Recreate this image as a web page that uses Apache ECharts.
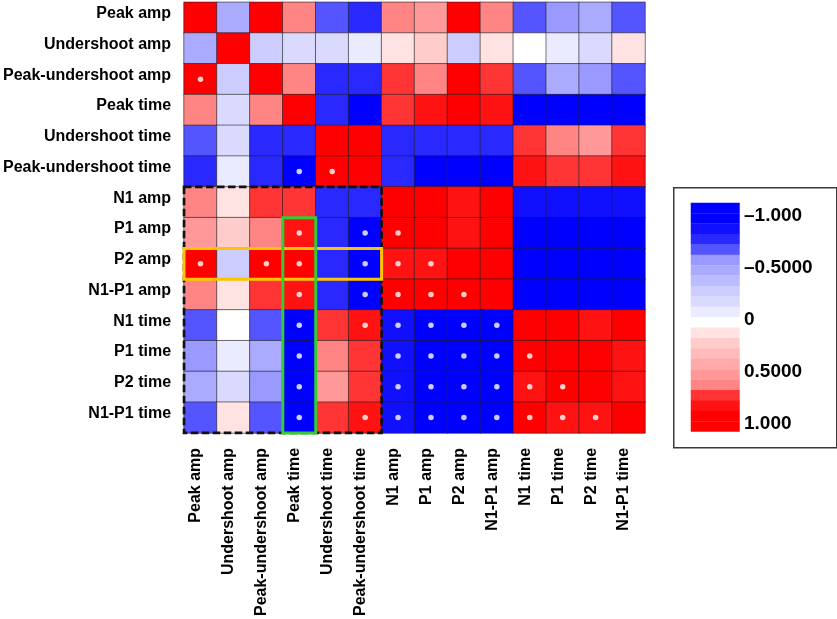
<!DOCTYPE html>
<html><head><meta charset="utf-8">
<script src="https://cdn.jsdelivr.net/npm/echarts@6/dist/echarts.min.js"></script>
<style>html,body{margin:0;padding:0;background:#fff}#chart{width:837px;height:619px}</style>
</head><body><div id="chart"></div>
<script>
const categories = ['Peak amp','Undershoot amp','Peak-undershoot amp','Peak time','Undershoot time','Peak-undershoot time','N1 amp','P1 amp','P2 amp','N1-P1 amp','N1 time','P1 time','P2 time','N1-P1 time'];

const corrRows = [
  [ 1.00,-0.45, 0.94, 0.64,-0.66,-0.77, 0.63, 0.56, 0.93, 0.64,-0.65,-0.54,-0.46,-0.66],
  [-0.45, 1.00,-0.26,-0.16,-0.15,-0.06, 0.14, 0.23,-0.24, 0.13, 0.03,-0.05,-0.17, 0.12],
  [ 0.94,-0.26, 1.00, 0.65,-0.78,-0.77, 0.76, 0.64, 0.95, 0.74,-0.66,-0.46,-0.53,-0.65],
  [ 0.64,-0.16, 0.65, 1.00,-0.78,-0.95, 0.74, 0.86, 0.94, 0.87,-0.94,-0.95,-0.94,-0.93],
  [-0.66,-0.15,-0.78,-0.78, 1.00, 0.95,-0.77,-0.78,-0.77,-0.79, 0.76, 0.64, 0.57, 0.77],
  [-0.77,-0.06,-0.77,-0.95, 0.95, 1.00,-0.78,-0.94,-0.95,-0.94, 0.87, 0.75, 0.76, 0.86],
  [ 0.63, 0.14, 0.76, 0.74,-0.77,-0.78, 1.00, 0.95, 0.87, 0.93,-0.88,-0.87,-0.89,-0.88],
  [ 0.56, 0.23, 0.64, 0.86,-0.78,-0.94, 0.95, 1.00, 0.86, 0.92,-0.93,-0.94,-0.93,-0.92],
  [ 0.93,-0.24, 0.95, 0.94,-0.77,-0.95, 0.87, 0.86, 1.00, 0.93,-0.93,-0.92,-0.93,-0.91],
  [ 0.64, 0.13, 0.74, 0.87,-0.79,-0.94, 0.93, 0.92, 0.93, 1.00,-0.92,-0.93,-0.91,-0.93],
  [-0.65, 0.03,-0.66,-0.94, 0.76, 0.87,-0.88,-0.93,-0.93,-0.92, 1.00, 0.95, 0.86, 0.92],
  [-0.54,-0.05,-0.46,-0.95, 0.64, 0.75,-0.87,-0.94,-0.92,-0.93, 0.95, 1.00, 0.95, 0.88],
  [-0.46,-0.17,-0.53,-0.94, 0.57, 0.76,-0.89,-0.93,-0.93,-0.91, 0.86, 0.95, 1.00, 0.87],
  [-0.66, 0.12,-0.65,-0.93, 0.77, 0.86,-0.88,-0.92,-0.91,-0.93, 0.92, 0.88, 0.87, 1.00]
];

// significant cells: [column index, row index]
const sigCells = [
  [0,2],[3,5],[4,5],
  [3,7],[5,7],[6,7],
  [0,8],[2,8],[3,8],[5,8],[6,8],[7,8],
  [3,9],[5,9],[6,9],[7,9],[8,9],
  [3,10],[5,10],[6,10],[7,10],[8,10],[9,10],
  [3,11],[6,11],[7,11],[8,11],[9,11],[10,11],
  [3,12],[6,12],[7,12],[8,12],[9,12],[10,12],[11,12],
  [3,13],[5,13],[6,13],[7,13],[8,13],[9,13],[10,13],[11,13],[12,13]
];

// highlighted boxes: [col0, row0, col1, row1]
const boxes = [[0,6,5,13],[0,8,5,8],[3,7,3,13]];

const legendTickValues = [-1, -0.5, 0, 0.5, 1];
const legendTickLabels = ['\u20131.000','\u20130.5000','0','0.5000','1.000'];

const pieceBounds = [-1.1,-1.0,-0.9,-0.8,-0.7,-0.6,-0.5,-0.4,-0.3,-0.2,-0.1,0,0.1,0.2,0.3,0.4,0.5,0.6,0.7,0.8,0.9,1.0,1.1];
const pieceColors = ['#0000ff','#0000ff','#1010ff','#2828ff','#5555ff','#9999ff','#aaaaff','#bbbbff','#ccccff','#dadaff','#ebebff',
                     '#ffffff','#ffe3e3','#ffcccc','#ffbbbb','#ffaaaa','#ff9999','#ff8585','#ff3535','#ff1212','#ff0000','#ff0000'];

const boxStyles = [
  {stroke:'#111', lineWidth:2.7, lineDash:[7.5,3.5]},
  {stroke:'#ffc400', lineWidth:3, lineDash:null},
  {stroke:'#33cc33', lineWidth:3, lineDash:null}
];

const heatData = [];
corrRows.forEach((row, r) => row.forEach((v, c) => heatData.push([c, r, v])));

const pieces = pieceColors.map((col, i) => (
  i === pieceColors.length - 1
    ? {gte: pieceBounds[i], lte: pieceBounds[i+1], color: col}
    : {gte: pieceBounds[i], lt: pieceBounds[i+1], color: col}
));

const FONT = 'Liberation Sans, Arial, Helvetica, sans-serif';
const chart = echarts.init(document.getElementById('chart'), null, {renderer:'canvas'});
chart.setOption({
  backgroundColor:'#fff',
  animation:false,
  grid:[
    {left:182, top:2.3, width:463, height:434, containLabel:false},
    {left:690, top:212.4, width:49, height:208, containLabel:false}
  ],
  xAxis:[
    {type:'category', data:categories, gridIndex:0, position:'bottom',
     axisLine:{show:false}, axisTick:{show:false}, splitLine:{show:false},
     axisLabel:{rotate:90, interval:0, margin:15, color:'#000', fontFamily:FONT, fontWeight:'bold', fontSize:16,
       verticalAlign:'bottom', lineHeight:9}},
    {type:'value', gridIndex:1, show:false, min:0, max:1}
  ],
  yAxis:[
    {type:'category', data:categories, gridIndex:0, inverse:true,
     axisLine:{show:false}, axisTick:{show:false}, splitLine:{show:false},
     axisLabel:{interval:0, margin:13, color:'#000', fontFamily:FONT, fontWeight:'bold', fontSize:16,
       verticalAlign:'bottom', lineHeight:8}},
    {type:'value', gridIndex:1, min:-1, max:1, interval:0.5, inverse:true, position:'right', z:20,
     axisLine:{show:false}, axisTick:{show:false}, splitLine:{show:false},
     axisLabel:{show:true, margin:5, color:'#000', fontFamily:FONT, fontWeight:'bold', fontSize:19,
       verticalAlign:'top', lineHeight:7,
       showMinLabel:true, showMaxLabel:true,
       formatter:(v)=>{const i = legendTickValues.findIndex(t=>Math.abs(t-v)<1e-6); return i>=0 ? legendTickLabels[i] : '';}}}
  ],
  visualMap:{
    type:'piecewise', seriesIndex:0, orient:'vertical', inverse:true,
    pieces:pieces, showLabel:false, itemSymbol:'rect',
    itemWidth:49, itemHeight:10.7, itemGap:-0.3,
    left:673, top:187, padding:[15,97,15.9,17],
    borderColor:'#3a3a3a', borderWidth:1.5, backgroundColor:'transparent',
    selectedMode:false, hoverLink:false, z:1
  },
  series:[
    {type:'heatmap', xAxisIndex:0, yAxisIndex:0, data:heatData,
     itemStyle:{borderColor:'rgba(30,30,30,0.75)', borderWidth:0.8},
     emphasis:{disabled:true}, silent:true, z:2},
    {type:'scatter', xAxisIndex:0, yAxisIndex:0, data:sigCells, symbol:'circle', symbolSize:5.5,
     itemStyle:{color:'#fff'}, silent:true, z:4},
    {type:'custom', xAxisIndex:0, yAxisIndex:0, data:boxes, silent:true, z:5, clip:false,
     renderItem:(params, api)=>{
       const p0 = api.coord([api.value(0), api.value(1)]);
       const p1 = api.coord([api.value(2), api.value(3)]);
       const s = api.size([1,1]);
       const st = boxStyles[params.dataIndex];
       return {type:'rect', shape:{x:p0[0]-s[0]/2, y:p0[1]-s[1]/2, width:p1[0]-p0[0]+s[0], height:p1[1]-p0[1]+s[1]},
               style:{fill:'none', stroke:st.stroke, lineWidth:st.lineWidth, lineDash:st.lineDash}};
     }},
    {type:'scatter', xAxisIndex:1, yAxisIndex:1, data:[], silent:true}
  ]
});
</script></body></html>
